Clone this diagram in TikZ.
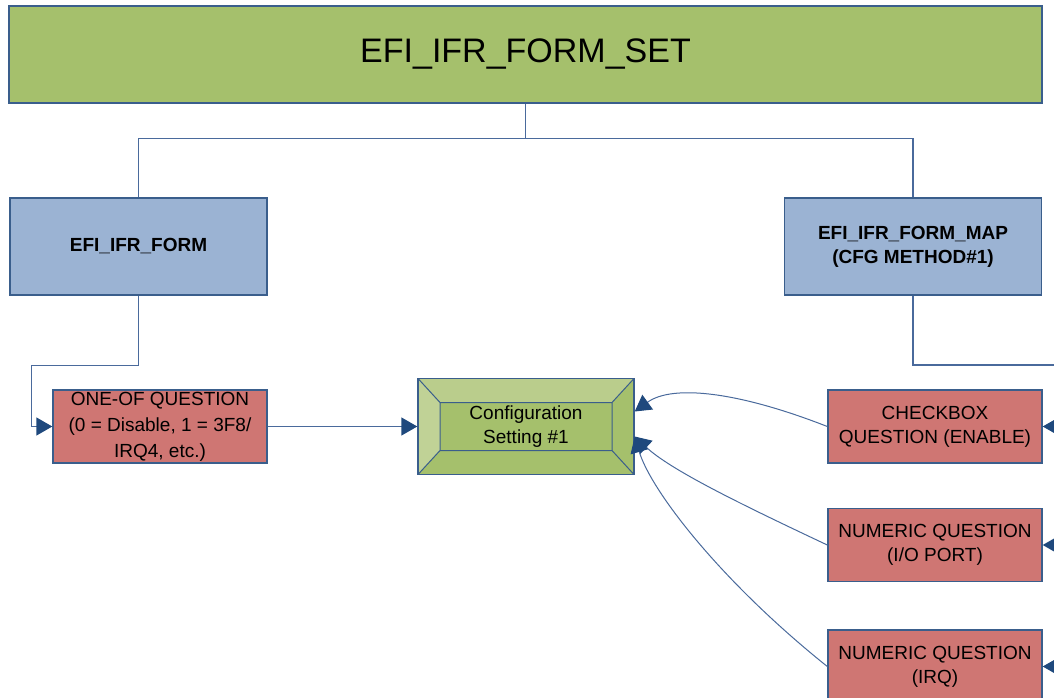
\documentclass[tikz,border=0pt]{standalone}
\usepackage{fontspec}
\setmainfont{Liberation Sans}
\usetikzlibrary{arrows.meta}

\definecolor{setgreen}{RGB}{165,192,108}
\definecolor{bevtop}{RGB}{186,205,140}
\definecolor{bevleft}{RGB}{192,210,150}
\definecolor{formblue}{RGB}{155,179,211}
\definecolor{qred}{RGB}{207,118,115}
\definecolor{boxline}{RGB}{58,94,140}
\definecolor{linkblue}{RGB}{74,106,156}
\definecolor{tipblue}{RGB}{31,73,125}

\begin{document}
\begin{tikzpicture}[x=1pt, y=-1pt, node distance=120pt,
  formsetbox/.style={rectangle, draw=boxline, line width=1.4pt, fill=setgreen, minimum width=1033pt, minimum height=97pt, font=\fontsize{34}{40}\selectfont},
  formbox/.style={rectangle, draw=boxline, line width=1.4pt, fill=formblue, minimum width=257pt, minimum height=97pt, align=center, font=\fontsize{19}{24}\selectfont\bfseries},
  qbox/.style={rectangle, draw=boxline, line width=1.4pt, fill=qred, minimum width=214pt, minimum height=73pt, inner sep=0pt, align=center, font=\fontsize{19}{24}\selectfont},
  settingbox/.style={rectangle, draw=boxline, line width=1.4pt, fill=setgreen, minimum width=216pt, minimum height=96pt, inner sep=0pt, align=center, font=\fontsize{19}{24}\selectfont,
    path picture={
      \coordinate (pNW) at (path picture bounding box.north west);
      \coordinate (pNE) at (path picture bounding box.north east);
      \coordinate (pSW) at (path picture bounding box.south west);
      \coordinate (pSE) at (path picture bounding box.south east);
      \coordinate (iNW) at ([shift={(22,24)}]pNW);
      \coordinate (iNE) at ([shift={(-22,24)}]pNE);
      \coordinate (iSW) at ([shift={(22,-24)}]pSW);
      \coordinate (iSE) at ([shift={(-22,-24)}]pSE);
      \fill [bevtop] (pNW) -- (pNE) -- (iNE) -- (iNW) -- cycle;
      \fill [bevleft] (pNW) -- (iNW) -- (iSW) -- (pSW) -- cycle;
      \draw [boxline, line width=1pt] (iNW) rectangle (iSE)
        (pNW) -- (iNW) (pNE) -- (iNE) (pSW) -- (iSW) (pSE) -- (iSE);
    }},
  link/.style={draw=linkblue, line width=1.4pt},
  arrow/.style={link, -{Triangle[length=16pt, width=18pt, color=tipblue]}},
  curvearrow/.style={arrow, line width=1pt}
]
\path [use as bounding box, clip] (0,0) rectangle (1054,698);

\node (formset) [formsetbox] at (525.5,54.5) {EFI\_IFR\_FORM\_SET};
\node (form) [formbox, below of=formset, xshift=-387pt, yshift=-72pt] {EFI\_IFR\_FORM};
\node (formmap) [formbox, below of=formset, xshift=387.5pt, yshift=-72pt] {EFI\_IFR\_FORM\_MAP\\(CFG METHOD\#1)};
\node (oneof) [qbox, below of=form, xshift=21.5pt, yshift=-60pt, font=\fontsize{19}{26}\selectfont] {ONE-OF QUESTION\\(0 = Disable, 1 = 3F8/\\IRQ4, etc.)};
\node (config) [settingbox, right of=oneof, xshift=246pt] {Configuration\\Setting \#1};
\node (checkbox) [qbox, below of=formmap, xshift=22pt, yshift=-60pt] {CHECKBOX\\QUESTION (ENABLE)};
\node (numio) [qbox, below of=checkbox, yshift=1.5pt] {NUMERIC QUESTION\\(I/O PORT)};
\node (numirq) [qbox, below of=numio, yshift=-1.5pt] {NUMERIC QUESTION\\(IRQ)};

% free ends beyond the right margin
\coordinate [right of=checkbox, xshift=25pt] (inA);
\coordinate [right of=numio, xshift=25pt] (inB);
\coordinate [right of=numirq, xshift=25pt] (inC);
\coordinate (mapexit) at (1080,365);
\coordinate (oneofin) at ([xshift=-21pt]oneof.west);

\draw [link] (formset.south) -- ++(0,35) -| (form.north);
\draw [link] (formset.south) -- ++(0,35) -| (formmap.north);
\draw [arrow] (form.south) -- ++(0,70) -| (oneofin) -- (oneof.west);
\draw [link] (formmap.south) |- (mapexit);
\draw [arrow] (oneof.east) -- (config.west);

\draw [curvearrow] (checkbox.west) .. controls +(-88,-34.5) and +(38,-27.5) .. ([yshift=15pt]config.east);
\draw [curvearrow] (numio.west) .. controls +(-88,-41.5) and +(36,33.5) .. ([yshift=-10pt]config.east);
\draw [curvearrow] (numirq.west) .. controls +(-108,-86.5) and +(16,53.5) .. ([yshift=-10pt]config.east);

\draw [arrow] (inA) -- (checkbox.east);
\draw [arrow] (inB) -- (numio.east);
\draw [arrow] (inC) -- (numirq.east);
\end{tikzpicture}
\end{document}
